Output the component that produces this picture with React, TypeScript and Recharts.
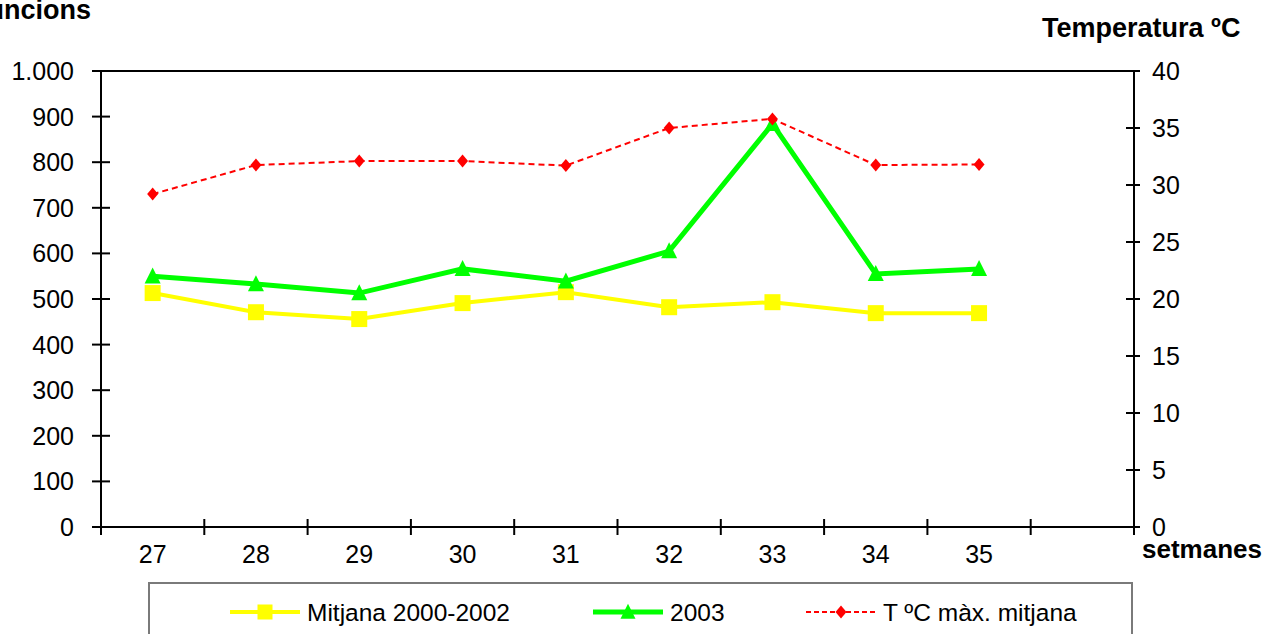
import { LineChart, Line, XAxis, YAxis, ReferenceLine } from "recharts";

// setmanes (l'última casella queda buida, com a l'original)
const weeks = ["27", "28", "29", "30", "31", "32", "33", "34", "35", ""];
const mitjana = [513, 471, 456, 491, 515, 482, 493, 469, 469, null];
const any2003 = [550, 533, 513, 566, 539, 605, 884, 555, 566, null];
const tempMax = [29.2, 31.75, 32.1, 32.1, 31.7, 35.0, 35.8, 31.75, 31.8, null];

const leftTicks = [0, 100, 200, 300, 400, 500, 600, 700, 800, 900, 1000];
const rightTicks = [0, 5, 10, 15, 20, 25, 30, 35, 40];

const W = 1268;
const H = 634;
const PLOT_LEFT = 101;
const PLOT_RIGHT = 1134;
const PLOT_TOP = 71;
const PLOT_BOTTOM = 527;
const BAND = (PLOT_RIGHT - PLOT_LEFT) / weeks.length;
const FONT = "'Liberation Sans', Arial, sans-serif";
const TICK_FS = 25;

const YELLOW = "#FFFF00";
const GREEN = "#00FF00";
const RED = "#FF0000";

const data = weeks.map((w, i) => ({
  week: w,
  mitjana: mitjana[i],
  any2003: any2003[i],
  temp: tempMax[i],
}));

const fmtMiles = (v: number) =>
  v >= 1000
    ? `${Math.floor(v / 1000)}.${String(v % 1000).padStart(3, "0")}`
    : String(v);

function XTick(props: any) {
  const { x, payload, index } = props;
  const last = index === weeks.length - 1;
  return (
    <g>
      <text
        x={x}
        y={PLOT_BOTTOM + 36}
        textAnchor="middle"
        fontSize={TICK_FS}
        fontFamily={FONT}
        fill="#000"
      >
        {payload.value}
      </text>
      <line
        x1={x - BAND / 2}
        x2={x - BAND / 2}
        y1={PLOT_BOTTOM - 8}
        y2={PLOT_BOTTOM + 8}
        stroke="#000"
        strokeWidth={2}
      />
      {last && (
        <line
          x1={x + BAND / 2}
          x2={x + BAND / 2}
          y1={PLOT_BOTTOM - 8}
          y2={PLOT_BOTTOM + 8}
          stroke="#000"
          strokeWidth={2}
        />
      )}
    </g>
  );
}

function LeftTick(props: any) {
  const { y, payload } = props;
  return (
    <g>
      <text
        x={PLOT_LEFT - 27}
        y={y}
        dy="0.36em"
        textAnchor="end"
        fontSize={TICK_FS}
        fontFamily={FONT}
        fill="#000"
      >
        {fmtMiles(payload.value)}
      </text>
      <line x1={PLOT_LEFT - 9} x2={PLOT_LEFT + 9} y1={y} y2={y} stroke="#000" strokeWidth={2} />
    </g>
  );
}

function RightTick(props: any) {
  const { y, payload } = props;
  return (
    <g>
      <text
        x={PLOT_RIGHT + 18}
        y={y}
        dy="0.36em"
        textAnchor="start"
        fontSize={TICK_FS}
        fontFamily={FONT}
        fill="#000"
      >
        {payload.value}
      </text>
      <line x1={PLOT_RIGHT - 8} x2={PLOT_RIGHT + 6} y1={y} y2={y} stroke="#000" strokeWidth={2} />
    </g>
  );
}

const square = (cx: number, cy: number, s: number, fill: string) => (
  <rect x={cx - s / 2} y={cy - s / 2} width={s} height={s} fill={fill} />
);
const triangle = (cx: number, cy: number, s: number, fill: string) => (
  <polygon
    points={`${cx},${cy - s * 0.55} ${cx - s / 2},${cy + s * 0.45} ${cx + s / 2},${cy + s * 0.45}`}
    fill={fill}
  />
);
const diamond = (cx: number, cy: number, w: number, h: number, fill: string) => (
  <polygon
    points={`${cx},${cy - h / 2} ${cx + w / 2},${cy} ${cx},${cy + h / 2} ${cx - w / 2},${cy}`}
    fill={fill}
  />
);

const SquareDot = (p: any) =>
  p.cy == null ? <g key={p.index} /> : <g key={p.index}>{square(p.cx, p.cy, 16, YELLOW)}</g>;
const TriangleDot = (p: any) =>
  p.cy == null ? <g key={p.index} /> : <g key={p.index}>{triangle(p.cx, p.cy, 16, GREEN)}</g>;
const DiamondDot = (p: any) =>
  p.cy == null ? <g key={p.index} /> : <g key={p.index}>{diamond(p.cx, p.cy, 11, 13, RED)}</g>;

// llegenda
const legendItems = [
  { name: "Mitjana 2000-2002", color: YELLOW, width: 4, dash: undefined, marker: "square", x: 230 },
  { name: "2003", color: GREEN, width: 5, dash: undefined, marker: "triangle", x: 593 },
  { name: "T ºC màx. mitjana", color: RED, width: 2, dash: "5 3", marker: "diamond", x: 806 },
];

function Overlay() {
  const ly = 612;
  return (
    <svg
      width={W}
      height={H}
      style={{ position: "absolute", left: 0, top: 0, pointerEvents: "none" }}
    >
      <text x={91} y={19} textAnchor="end" fontSize={27} fontWeight="bold" fontFamily={FONT} fill="#000">
        Defuncions
      </text>
      <text x={1042} y={37} fontSize={27} fontWeight="bold" fontFamily={FONT} fill="#000">
        Temperatura ºC
      </text>
      <text x={1142} y={558} fontSize={26} fontWeight="bold" fontFamily={FONT} fill="#000">
        setmanes
      </text>
      <rect x={149} y={583} width={983} height={80} fill="none" stroke="#7a7a7a" strokeWidth={2} />
      {legendItems.map((it) => {
        const cx = it.x + 35;
        return (
          <g key={it.name}>
            <line
              x1={it.x}
              x2={it.x + 70}
              y1={ly}
              y2={ly}
              stroke={it.color}
              strokeWidth={it.width}
              strokeDasharray={it.dash}
            />
            {it.marker === "square" && square(cx, ly, 15, it.color)}
            {it.marker === "triangle" && triangle(cx, ly, 15, it.color)}
            {it.marker === "diamond" && diamond(cx, ly, 11, 13, it.color)}
            <text
              x={it.x + 77}
              y={ly + 8.5}
              fontSize={24.5}
              fontFamily={FONT}
              fill="#000"
            >
              {it.name}
            </text>
          </g>
        );
      })}
    </svg>
  );
}

export default function App() {
  return (
    <div
      style={{
        position: "absolute",
        left: 0,
        top: 0,
        width: W,
        height: H,
        overflow: "hidden",
        background: "#fff",
        fontFamily: FONT,
      }}
    >
      <LineChart
        width={W}
        height={H}
        data={data}
        margin={{ top: PLOT_TOP, right: 0, bottom: H - PLOT_BOTTOM - 50, left: 0 }}
      >
        <XAxis
          dataKey="week"
          scale="band"
          interval={0}
          height={50}
          axisLine={{ stroke: "#000", strokeWidth: 2 }}
          tickLine={false}
          tick={<XTick />}
        />
        <YAxis
          yAxisId="left"
          width={PLOT_LEFT}
          domain={[0, 1000]}
          ticks={leftTicks}
          interval={0}
          axisLine={{ stroke: "#000", strokeWidth: 2 }}
          tickLine={false}
          tick={<LeftTick />}
        />
        <YAxis
          yAxisId="right"
          orientation="right"
          width={W - PLOT_RIGHT}
          domain={[0, 40]}
          ticks={rightTicks}
          interval={0}
          axisLine={{ stroke: "#000", strokeWidth: 2 }}
          tickLine={false}
          tick={<RightTick />}
        />
        <ReferenceLine yAxisId="left" y={1000} stroke="#000" strokeWidth={2} />
        <Line
          yAxisId="left"
          type="linear"
          dataKey="mitjana"
          stroke={YELLOW}
          strokeWidth={4}
          dot={SquareDot}
          activeDot={false}
          isAnimationActive={false}
        />
        <Line
          yAxisId="left"
          type="linear"
          dataKey="any2003"
          stroke={GREEN}
          strokeWidth={5}
          dot={TriangleDot}
          activeDot={false}
          isAnimationActive={false}
        />
        <Line
          yAxisId="right"
          type="linear"
          dataKey="temp"
          stroke={RED}
          strokeWidth={2}
          strokeDasharray="6 4"
          dot={DiamondDot}
          activeDot={false}
          isAnimationActive={false}
        />
      </LineChart>
      <Overlay />
    </div>
  );
}
